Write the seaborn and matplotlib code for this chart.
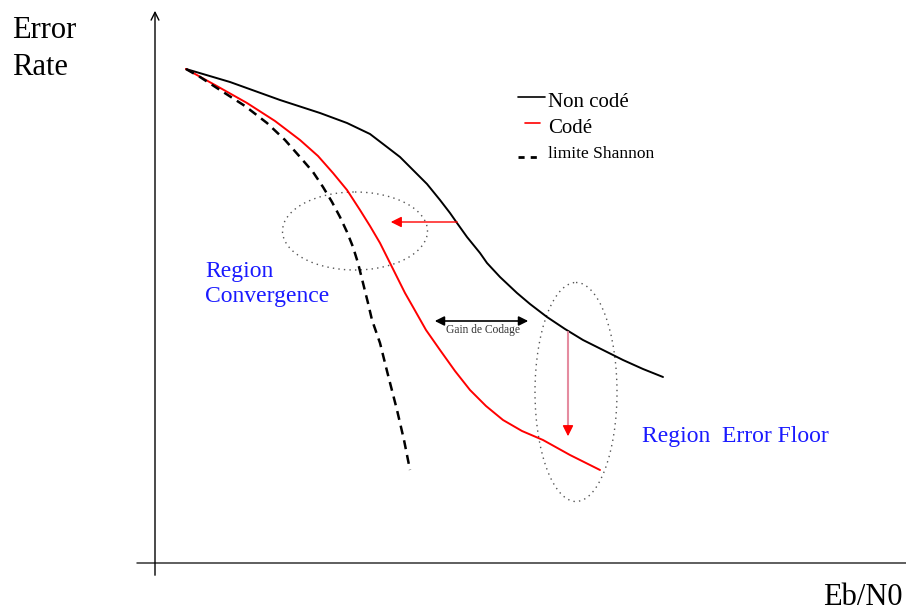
import numpy as np
import pandas as pd
import seaborn as sns
import matplotlib.pyplot as plt
from matplotlib.patches import Ellipse

# points (pixel space, y grows downward)
non_code_x = [186, 230, 280, 320, 347, 370, 387, 400, 413, 427, 440, 450, 457, 467, 480, 487, 500, 517, 530, 547, 565, 583, 603, 623, 643, 663]
non_code_y = [69, 82, 100, 113, 123, 134, 147, 157, 170, 184, 200, 213, 223, 237, 253, 263, 277, 293, 304, 317, 329, 340, 350, 360, 369, 377]

code_x = [186, 215, 247, 275, 300, 318, 333, 347, 360, 370, 380, 390, 397, 405, 413, 426, 440, 455, 470, 486, 503, 522, 543, 570, 600]
code_y = [69, 85, 103, 121, 140, 156, 173, 190, 210, 226, 243, 263, 277, 293, 307, 330, 350, 371, 390, 406, 420, 431, 440, 455, 470]

shannon_x = [186, 200, 220, 245, 267, 285, 300, 313, 323, 332, 340, 347, 353, 358, 363, 368, 372, 380, 388, 397, 404, 410]
shannon_y = [69, 77, 90, 106, 123, 140, 157, 172, 187, 202, 217, 232, 247, 263, 283, 303, 320, 343, 375, 410, 440, 470]

legend_labels = ['Non codé', 'Codé', 'limite Shannon']

sns.set_style('white')
plt.rcParams['font.family'] = ['Liberation Serif', 'DejaVu Serif']
plt.rcParams['text.color'] = 'black'

fig = plt.figure(figsize=(9.06, 6.15), dpi=100)
ax = fig.add_axes([0, 0, 1, 1])
ax.set_xlim(0, 906)
ax.set_ylim(615, 0)
ax.axis('off')

sns.lineplot(x=non_code_x, y=non_code_y, sort=False, estimator=None, color='black', lw=1.4, ax=ax)
sns.lineplot(x=code_x, y=code_y, sort=False, estimator=None, color='red', lw=1.4, ax=ax)
sns.lineplot(x=shannon_x, y=shannon_y, sort=False, estimator=None, color='black', lw=1.8, ax=ax)
ax.lines[-1].set_dashes([3.6, 2.4])

# axes arrows
ax.annotate('', xy=(155, 8), xytext=(155, 578),
            arrowprops=dict(arrowstyle='->', color='black', lw=1, mutation_scale=14))
ax.plot([137, 906], [563, 563], color='#333333', lw=1.1)

# ellipses
ax.add_patch(Ellipse((355, 231), 145, 78, fill=False, ls=(0, (1, 3)), color='#555555', lw=1))
ax.add_patch(Ellipse((576, 392), 82, 219, fill=False, ls=(0, (1, 3)), color='#555555', lw=1))

# arrows
ax.annotate('', xy=(388, 222), xytext=(460, 222),
            arrowprops=dict(arrowstyle='-|>', color='red', lw=1, mutation_scale=16))
ax.plot([568, 568], [332, 428], color='#e58ca0', lw=1.5)
ax.annotate('', xy=(568, 439), xytext=(568, 425),
            arrowprops=dict(arrowstyle='-|>', color='red', lw=1, mutation_scale=16))
ax.annotate('', xy=(432, 321), xytext=(531, 321),
            arrowprops=dict(arrowstyle='<|-|>', color='black', lw=1.2, mutation_scale=14))
ax.text(483, 333, 'Gain de Codage', fontsize=8.3, ha='center', va='baseline', color='#333333')

# legend drawn by hand
ax.plot([518, 545], [97, 97], color='black', lw=1.2)
ax.text(548, 107, legend_labels[0], fontsize=15, va='baseline')
ax.plot([525, 540], [123, 123], color='red', lw=1.2)
ax.text(548, 133, legend_labels[1], fontsize=15, va='baseline')
ax.plot([518, 537], [157, 157], color='black', lw=2, dashes=[2.2, 2.2])
ax.text(548, 158, legend_labels[2], fontsize=12.5, va='baseline')

# labels
ax.text(12, 38, 'Error', fontsize=22, va='baseline')
ax.text(12, 75, 'Rate', fontsize=22, va='baseline')
ax.text(903, 605, 'Eb/N0', fontsize=22, va='baseline', ha='right')
ax.text(205, 277, 'Region', fontsize=17, color='#1a1aff', va='baseline')
ax.text(205, 302, 'Convergence', fontsize=17, color='#1a1aff', va='baseline')
ax.text(642, 442, 'Region  Error Floor', fontsize=17, color='#1a1aff', va='baseline')

fig.savefig('out.png', dpi=100)
